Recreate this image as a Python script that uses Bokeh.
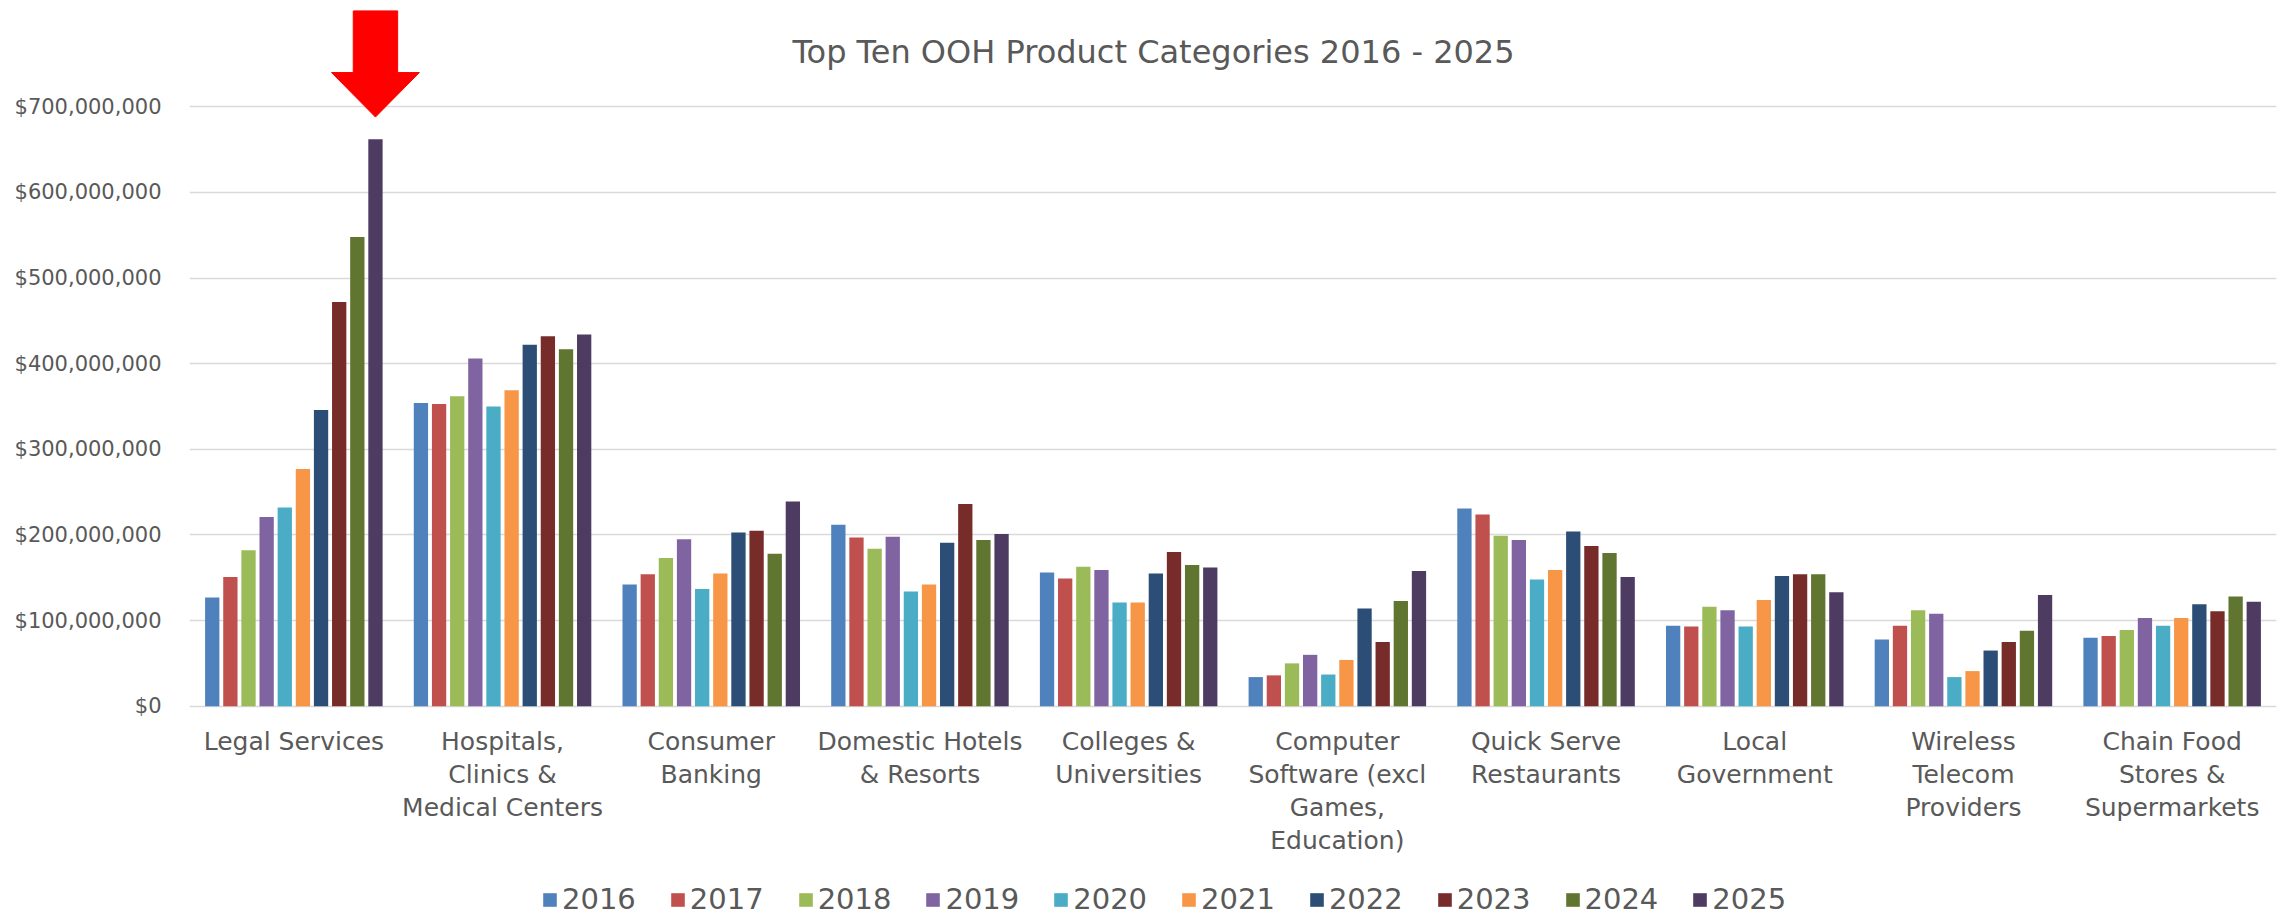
from bokeh.plotting import figure
from bokeh.models import (FactorRange, Range1d, FixedTicker, NumeralTickFormatter,
                          Legend, LegendItem, Label, ColumnDataSource)
from bokeh.transform import dodge
from bokeh.core.properties import value
from bokeh.embed import file_html
from bokeh.resources import INLINE

# ---------------- data ----------------
TITLE = "Top Ten OOH Product Categories 2016 - 2025"
CATEGORIES = ["Legal Services", "Hospitals, Clinics & Medical Centers", "Consumer Banking",
              "Domestic Hotels & Resorts", "Colleges & Universities",
              "Computer Software (excl Games, Education)", "Quick Serve Restaurants",
              "Local Government", "Wireless Telecom Providers", "Chain Food Stores & Supermarkets"]
CATEGORY_LABELS = ["Legal Services", "Hospitals,\nClinics &\nMedical Centers", "Consumer\nBanking",
                   "Domestic Hotels\n& Resorts", "Colleges &\nUniversities",
                   "Computer\nSoftware (excl\nGames,\nEducation)", "Quick Serve\nRestaurants",
                   "Local\nGovernment", "Wireless\nTelecom\nProviders", "Chain Food\nStores &\nSupermarkets"]
YEARS = ["2016", "2017", "2018", "2019", "2020", "2021", "2022", "2023", "2024", "2025"]
# values in $ millions, one list per year (category order as above)
Y2016 = [127, 354, 142, 212, 156, 34, 231, 94, 78, 80]
Y2017 = [151, 353, 154, 197, 149, 36, 224, 93, 94, 82]
Y2018 = [182, 362, 173, 184, 163, 50, 199, 116, 112, 89]
Y2019 = [221, 406, 195, 198, 159, 60, 194, 112, 108, 103]
Y2020 = [232, 350, 137, 134, 121, 37, 148, 93, 34, 94]
Y2021 = [277, 369, 155, 142, 121, 54, 159, 124, 41, 103]
Y2022 = [346, 422, 203, 191, 155, 114, 204, 152, 65, 119]
Y2023 = [472, 432, 205, 236, 180, 75, 187, 154, 75, 111]
Y2024 = [548, 417, 178, 194, 165, 123, 179, 154, 88, 128]
Y2025 = [662, 434, 239, 201, 162, 158, 151, 133, 130, 122]
Y_TICKS = [0, 100e6, 200e6, 300e6, 400e6, 500e6, 600e6, 700e6]

SERIES = [Y2016, Y2017, Y2018, Y2019, Y2020, Y2021, Y2022, Y2023, Y2024, Y2025]
COLORS = ["#4F81BD", "#C0504D", "#9BBB59", "#8064A2", "#4BACC6",
          "#F79646", "#2C4D75", "#772C2A", "#5F7530", "#4D3B62"]

# ---------------- layout / style ----------------
W, H = 2280, 916
FRAME_LEFT, FRAME_RIGHT = 189, 4
PX_PER_UNIT = 85.63 / 100e6          # vertical pixels per dollar
ZERO_FROM_BOTTOM = 210.3             # px from bottom of frame to $0
TOP_ABOVE_MAX_TICK = 106.3           # px from top of frame to top tick
N = len(YEARS)
SLOT = 0.0869
BAR_W = 0.0685
TEXT = "#595959"
FONT = "DejaVu Sans"

y_start = -ZERO_FROM_BOTTOM / PX_PER_UNIT
y_end = Y_TICKS[-1] + TOP_ABOVE_MAX_TICK / PX_PER_UNIT

p = figure(width=W, height=H, x_range=FactorRange(factors=CATEGORIES, range_padding=0),
           y_range=Range1d(y_start, y_end), output_backend="svg", toolbar_location=None,
           x_axis_location=None, min_border_left=FRAME_LEFT, min_border_right=FRAME_RIGHT,
           min_border_top=0, min_border_bottom=0, outline_line_color=None,
           background_fill_color="white", border_fill_color="white")

items = []
for i, (yr, vals, col) in enumerate(zip(YEARS, SERIES, COLORS)):
    src = ColumnDataSource(dict(cat=CATEGORIES, val=[v * 1e6 for v in vals]))
    r = p.vbar(x=dodge("cat", (i - (N - 1) / 2) * SLOT, range=p.x_range), top="val",
               width=BAR_W, source=src, fill_color=col, line_color=None)
    items.append(LegendItem(label=yr, renderers=[r]))

# axes & grid
p.xgrid.visible = False
p.ygrid.ticker = FixedTicker(ticks=Y_TICKS)
p.ygrid.grid_line_color = "#D9D9D9"
p.ygrid.grid_line_width = 1.5
ax = p.yaxis[0]
ax.ticker = FixedTicker(ticks=Y_TICKS)
ax.formatter = NumeralTickFormatter(format="$0,0")
ax.axis_line_color = None
ax.major_tick_line_color = None
ax.minor_tick_line_color = None
ax.major_label_standoff = 22
ax.major_label_text_font = FONT
ax.major_label_text_font_size = "21px"
ax.major_label_text_color = TEXT

# category labels under the bars
lab_src = ColumnDataSource(dict(cat=CATEGORIES, text=CATEGORY_LABELS,
                                y=[-20.5 / PX_PER_UNIT] * len(CATEGORIES)))
p.text(x="cat", y="y", text="text", source=lab_src, text_align="center",
       text_baseline="top", text_font=value(FONT), text_font_size="25px",
       text_color=TEXT, text_line_height=1.14)

# title
p.add_layout(Label(x=(1153 - FRAME_LEFT) / ((W - FRAME_LEFT - FRAME_RIGHT) / len(CATEGORIES)),
                   y=(706 - 52) / PX_PER_UNIT - ZERO_FROM_BOTTOM / PX_PER_UNIT + ZERO_FROM_BOTTOM / PX_PER_UNIT,
                   text=TITLE, text_align="center", text_baseline="middle",
                   text_font=FONT, text_font_size="32px", text_color=TEXT))

# red arrow pointing at the tallest bar (Legal Services 2025)
cx = 0.5 + ((N - 1) / 2) * SLOT
top_val = max(Y2025) * 1e6
tip = top_val + 26e6
base = tip + 52e6
tail = tip + 124e6
hs, hh = 0.1064, 0.2104
p.patch(x=[cx - hs, cx + hs, cx + hs, cx + hh, cx, cx - hh, cx - hs],
        y=[tail, tail, base, base, tip, base, base],
        fill_color="#FF0000", line_color="#FF0000", line_width=1)

legend = Legend(items=items, orientation="horizontal", location=(352, 0),
                glyph_width=17, glyph_height=17, label_standoff=4, spacing=33,
                padding=0, margin=0, border_line_color=None, background_fill_alpha=0,
                label_text_font=FONT, label_text_font_size="29px", label_text_color=TEXT)
p.add_layout(legend)

open("out.html", "w").write(file_html(p, INLINE))
